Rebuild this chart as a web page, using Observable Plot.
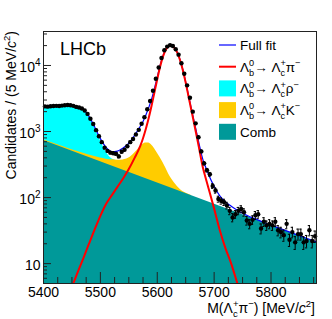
<!DOCTYPE html>
<html><head><meta charset="utf-8">
<script src="https://cdn.jsdelivr.net/npm/d3@7"></script>
<script src="https://cdn.jsdelivr.net/npm/@observablehq/plot@0.6"></script>
<style>
body{margin:0;background:#fff}
svg{font-family:"Liberation Sans",Arial,Helvetica,sans-serif}
</style>
</head><body><div id="chart"></div>
<script>
// ---- data (5 MeV bins) ----
const binStart = 5402.5, binWidth = 5;
const counts = [
 2400,2380,2420,2430,2450,2440,2470,2500,2520,2500,2450,2360,2310,2230,2080,1850,1560,1300,1050,850,
 690,570,510,480,470,460,420,495,530,600,690,770,900,1060,1310,1650,2180,2900,4150,6300,
 9300,13000,17000,19300,20300,19700,17600,14600,10800,7500,5000,3250,2000,1330,820,500,330,260,225,150,
 128,95,89,85,76,63,50,56,63,67,60,45,40,46,54,56,34,43,38,40,
 38,43,32,30,27,40,23,30,21,28,28,21,22,32,22,26
];
// ---- full fit ----
const fitMass = [5400,5410,5420,5430,5440,5450,5460,5470,5480,5490,5500,5510,5520,5530,5540,5550,5560,5570,5575,5580,5585,5590,5595,5600,5605,5610,5615,5620,5625,5630,5635,5640,5645,5650,5655,5660,5665,5670,5675,5680,5685,5690,5700,5710,5720,5730,5740,5750,5760,5770,5780,5790,5800,5820,5840,5860,5880];
const fitVals = [2420,2430,2450,2470,2495,2470,2380,2150,1700,1170,780,575,495,505,565,665,875,1190,1420,1780,2300,3080,4450,6680,10000,13930,17560,19730,20090,18670,15950,12240,8630,5620,3510,2210,1405,900,575,382,290,226,148,106,86,74,65,58,52.5,48.5,44.8,41.3,38.3,33,28.5,24.6,21.3];
// ---- Lb -> Lc pi ----
const piMass = [5440,5450,5460,5470,5480,5490,5500,5510,5520,5530,5540,5550,5560,5570,5575,5580,5585,5590,5595,5600,5605,5610,5615,5620,5625,5630,5635,5640,5645,5650,5655,5660,5665,5670,5675,5680,5685,5690,5700,5710,5720,5730,5740,5750];
const piVals = [3.2,4.5,7.4,12,20,33,53,80,108,145,195,270,395,600,790,1100,1600,2450,3900,6200,9600,13600,17300,19500,19900,18500,15800,12100,8500,5500,3400,2100,1300,800,480,290,200,140,68,32,17,10,5.3,2.8];
// ---- Lb -> Lc rho (top of stack) ----
const rhoMass = [5400,5410,5420,5430,5440,5450,5460,5470,5480,5490,5500,5510,5520,5530];
const rhoTop = [2420,2430,2450,2470,2492,2465,2373,2138,1681,1140,730,495,388,362];
// ---- Lb -> Lc K (top of stack) ----
const kMass = [5400,5420,5440,5460,5480,5500,5510,5520,5530,5540,5550,5560,5570,5575,5580,5585,5590,5595,5600,5605,5610,5615,5620,5625,5630,5640,5650,5660];
const kTop = [753,653,568,497,440,397,382,373,368,372,396,470,585,640,670,668,625,555,475,405,340,280,228,192,168,134,117,107.5];
// ---- combinatorial ----
const combMass = [5400,5880];
const combVals = [731,21.1];
// ---- ticks ----
const xMajor = [5400,5500,5600,5700,5800];
const xMinor = [5425,5450,5475,5525,5550,5575,5625,5650,5675,5725,5750,5775,5825,5850,5875];
const yMajor = [10,100,1000,10000];
const yMinor = [6,7,8,9,20,30,40,50,60,70,80,90,200,300,400,500,600,700,800,900,2000,3000,4000,5000,6000,7000,8000,9000,20000,30000];

const zip = (a,b) => a.map((m,i)=>({m, v:b[i]}));
const data = counts.map((n,i)=>({m: binStart + binWidth*i, n}));
const fit = zip(fitMass, fitVals), sig = zip(piMass, piVals);
const rho = zip(rhoMass, rhoTop), kk = zip(kMass, kTop), comb = zip(combMass, combVals);

const FW = 273, FH = 252;
const svg = Plot.plot({
  width: 332, height: 319,
  marginLeft: 43, marginRight: 16, marginTop: 31, marginBottom: 36,
  x: {domain: [5400, 5880], label: null},
  y: {type: "log", domain: [5, 32700], label: null},
  style: {background: "white", fontFamily: "Liberation Sans, Arial, sans-serif"},
  marks: [
    Plot.areaY(rho, {x: "m", y1: 1, y2: "v", fill: "#00ffff", curve: "monotone-x", clip: true}),
    Plot.areaY(kk, {x: "m", y1: 1, y2: "v", fill: "#ffcc00", curve: "monotone-x", clip: true}),
    Plot.areaY(comb, {x: "m", y1: 1, y2: "v", fill: "#009999", clip: true}),
    Plot.line(fit, {x: "m", y: "v", stroke: "#0000ff", strokeWidth: 1.2, curve: "monotone-x", clip: true}),
    Plot.line(sig, {x: "m", y: "v", stroke: "#ff0000", strokeWidth: 2, curve: "monotone-x", clip: true}),
    Plot.ruleX(data, {x: "m", y1: d => d.n - Math.sqrt(d.n), y2: d => d.n + Math.sqrt(d.n), stroke: "black", strokeWidth: 1, clip: true}),
    Plot.ruleY(data, {y: d => d.n + Math.sqrt(d.n), x1: d => d.m - 2, x2: d => d.m + 2, stroke: "black", clip: true}),
    Plot.ruleY(data, {y: d => d.n - Math.sqrt(d.n), x1: d => d.m - 2, x2: d => d.m + 2, stroke: "black", clip: true}),
    Plot.dot(data, {x: "m", y: "n", r: 2.2, fill: "black", stroke: "none"}),
    Plot.frame({stroke: "#222"}),
    Plot.tickX(xMajor, {x: d => d, insetTop: FH - 11, stroke: "#222"}),
    Plot.tickX(xMinor, {x: d => d, insetTop: FH - 6, stroke: "#222"}),
    Plot.tickY(yMajor, {y: d => d, insetRight: FW - 8, stroke: "#222"}),
    Plot.tickY(yMinor, {y: d => d, insetRight: FW - 4, stroke: "#222"}),
    Plot.axisX({ticks: xMajor, tickSize: 0, tickPadding: 4, fontSize: 14, tickFormat: d => String(d), label: null, fill: "black"}),
    Plot.axisY({ticks: yMajor, tickSize: 0, tickPadding: 3, fontSize: 14, dy: 2, tickFormat: d => d === 10 ? "10" : "10^" + Math.round(Math.log10(d)), label: null, fill: "black"})
  ]
});
document.getElementById("chart").append(svg);
const S = d3.select(svg);

// superscripts on y tick labels
S.selectAll("text").each(function() {
  const s = this.textContent;
  if (/^10\^\d$/.test(s)) {
    const [b, e] = s.split("^");
    this.textContent = b;
    d3.select(this).append("tspan").attr("dy", -6).attr("font-size", 10).text(e);
  }
});

function rich(t, parts, size) {
  let cur = 0, prev = null;
  for (const [s, type] of parts) {
    const sp = t.append("tspan").text(s);
    let target = 0, fs = size;
    if (type === "sub") { target = size * 0.3; fs = size * 0.68; }
    if (type === "sup" || type === "supOver") { target = -size * 0.42; fs = size * 0.68; }
    if (type === "it") sp.attr("font-style", "italic");
    sp.attr("font-size", fs);
    if (target - cur !== 0) sp.attr("dy", target - cur);
    if (type === "supOver" && prev) sp.attr("dx", -prev.node().getComputedTextLength());
    cur = target; prev = sp;
  }
}

// axis titles
rich(S.append("text").attr("text-anchor", "end").attr("font-size", 14)
  .attr("transform", "translate(16,31) rotate(-90)"),
  [["Candidates / (5 MeV/"], ["c", "it"], ["2", "sup"], [")"]], 14);
rich(S.append("text").attr("text-anchor", "end").attr("font-size", 14)
  .attr("x", 315).attr("y", 313),
  [["M("], ["Λ"], ["c", "sub"], ["+", "supOver"], ["π"], ["−", "sup"], [") [MeV/"], ["c", "it"], ["2", "sup"], ["]"]], 14);

// LHCb label
S.append("text").attr("text-anchor", "start").attr("x", 60).attr("y", 55).attr("font-size", 18).text("LHCb");

// legend
const legendItems = [
  {kind: "line", color: "#0000ff", w: 1.2, parts: [["Full fit"]]},
  {kind: "line", color: "#ff0000", w: 2, parts: [["Λ"], ["b", "sub"], ["0", "supOver"], ["→ Λ"], ["c", "sub"], ["+", "supOver"], ["π"], ["−", "sup"]]},
  {kind: "box", color: "#00ffff", parts: [["Λ"], ["b", "sub"], ["0", "supOver"], ["→ Λ"], ["c", "sub"], ["+", "supOver"], ["ρ"], ["−", "sup"]]},
  {kind: "box", color: "#ffcc00", parts: [["Λ"], ["b", "sub"], ["0", "supOver"], ["→ Λ"], ["c", "sub"], ["+", "supOver"], ["K"], ["−", "sup"]]},
  {kind: "box", color: "#009999", parts: [["Comb"]]}
];
legendItems.forEach((it, i) => {
  const cy = 45 + i * 21.7;
  if (it.kind === "line") {
    S.append("line").attr("x1", 219).attr("x2", 236).attr("y1", cy).attr("y2", cy)
      .attr("stroke", it.color).attr("stroke-width", it.w);
  } else {
    S.append("rect").attr("x", 219).attr("y", cy - 8).attr("width", 17).attr("height", 16).attr("fill", it.color);
  }
  rich(S.append("text").attr("text-anchor", "start").attr("x", 240).attr("y", cy + 5).attr("font-size", 13.5), it.parts, 13.5);
});
</script>
</body></html>
